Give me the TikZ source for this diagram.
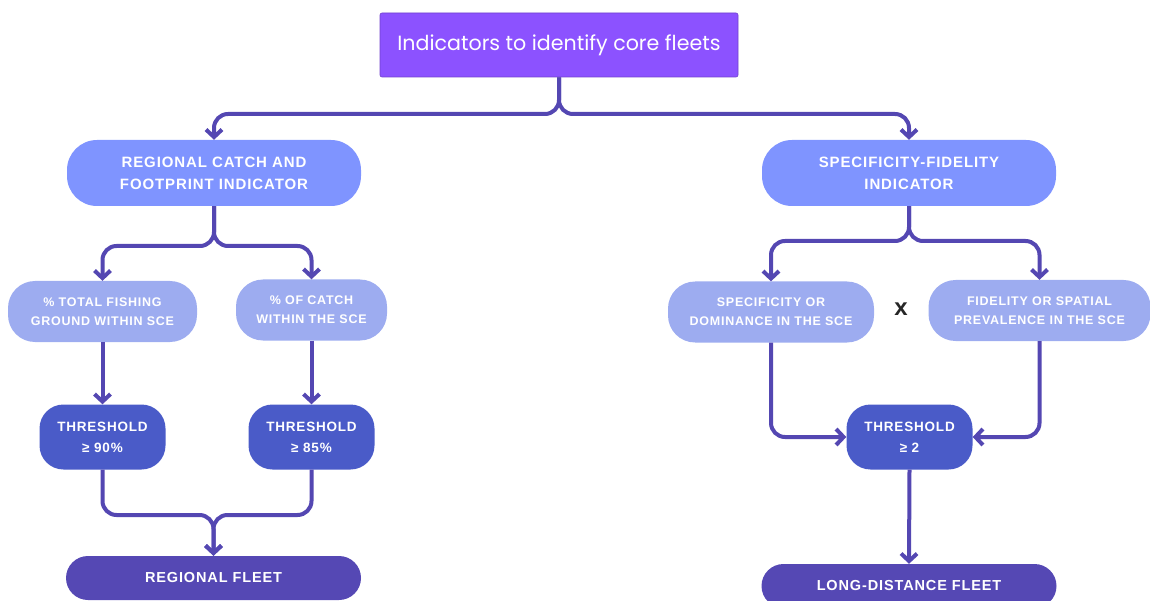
\documentclass[tikz,border=0pt]{standalone}
\usepackage{fontspec}
\usepackage{xcolor}
\usepackage{tikz}
\usetikzlibrary{arrows.meta,positioning,calc}
\newfontfamily\titlefont{Poppins}
\newfontfamily\capsfont[LetterSpace=6]{Liberation Sans}
\definecolor{toppurple}{HTML}{8C52FF}
\definecolor{indcol}{HTML}{7F94FF}
\definecolor{subcol}{HTML}{9DACF0}
\definecolor{thrcol}{HTML}{4A5BC8}
\definecolor{fleetcol}{HTML}{5548B4}
\definecolor{linecol}{HTML}{5447B2}

\begin{document}
\begin{tikzpicture}[x=1pt,y=-1pt,
  conn/.style={draw=linecol,line width=4pt,rounded corners=14pt,-{Straight Barb[length=7.5pt,width=16pt]}},
  indbox/.style={fill=indcol,text=white,rounded corners=30pt,align=center,inner sep=0pt,
    minimum width=294pt,minimum height=66pt,font=\capsfont\bfseries\fontsize{15}{22}\selectfont},
  subbox/.style={fill=subcol,text=white,rounded corners=27pt,align=center,inner sep=0pt,
    minimum height=61pt,font=\capsfont\bfseries\fontsize{12.5}{19}\selectfont},
  thrbox/.style={fill=thrcol,text=white,rounded corners=24pt,align=center,inner sep=0pt,
    minimum width=126pt,minimum height=65pt,font=\capsfont\bfseries\fontsize{13.5}{21}\selectfont},
  fleetbox/.style={fill=fleetcol,text=white,rounded corners=22pt,align=center,inner sep=0pt,
    minimum width=295pt,minimum height=44pt,font=\capsfont\bfseries\fontsize{14.5}{20}\selectfont}]
\useasboundingbox (0,0) rectangle (1150,601);

% top
\node[fill=toppurple,draw=toppurple!80!black,line width=0.6pt,rounded corners=2pt,text=white,
  minimum width=358pt,minimum height=64pt,inner sep=0pt,font=\titlefont\fontsize{20.6}{24}\selectfont]
  (top) at (559,45) {Indicators to identify core fleets};

% indicators
\node[indbox] (reg) at (214,173) {REGIONAL CATCH AND\\FOOTPRINT INDICATOR};
\node[indbox] (spf) at (909,173) {SPECIFICITY-FIDELITY\\INDICATOR};

% components
\node[subbox,minimum width=189pt] (ground) at (102.5,311.5) {\% TOTAL FISHING\\GROUND WITHIN SCE};
\node[subbox,minimum width=151pt] (catch) at (311.5,310) {\% OF CATCH\\WITHIN THE SCE};
\node[subbox,minimum width=206pt] (spec) at (771,312) {SPECIFICITY OR\\DOMINANCE IN THE SCE};
\node[subbox,minimum width=222pt] (fid) at (1039.5,310.5) {FIDELITY OR SPATIAL\\PREVALENCE IN THE SCE};
\node[text=black!85,font=\capsfont\bfseries\fontsize{24}{26}\selectfont] (times) at (901,309) {x};

% thresholds
\node[thrbox] (thr1) at (102.5,437) {THRESHOLD\\≥ 90\%};
\node[thrbox] (thr2) at (311.5,437) {THRESHOLD\\≥ 85\%};
\node[thrbox] (thr3) at (909.5,437) {THRESHOLD\\≥ 2};

% fleets
\node[fleetbox] (regfleet) at (213.5,578) {REGIONAL FLEET};
\node[fleetbox] (ldfleet) at (909,586) {LONG-DISTANCE FLEET};

% junctions
\coordinate (j0) at (559,114);
\coordinate (j1) at (214,246);
\coordinate (j2) at (909,241);
\coordinate (j3) at (213.5,515);

\draw[conn] (top.south) -- (j0) -| (reg.north);
\draw[conn] (top.south) -- (j0) -| (spf.north);
\draw[conn] (reg.south) -- (j1) -| (ground.north);
\draw[conn] (reg.south) -- (j1) -| (catch.north);
\draw[conn] (spf.south) -- (j2) -| (spec.north);
\draw[conn] (spf.south) -- (j2) -| (fid.north);
\draw[conn] (ground.south) -- (thr1.north);
\draw[conn] (catch.south) -- (thr2.north);
\draw[conn] (spec.south) |- (thr3.west);
\draw[conn] (fid.south) |- (thr3.east);
\draw[conn] (thr1.south) |- (j3) -- (regfleet.north);
\draw[conn] (thr2.south) |- (j3) -- (regfleet.north);
\draw[conn] (thr3.south) -- (ldfleet.north);
\end{tikzpicture}
\end{document}
